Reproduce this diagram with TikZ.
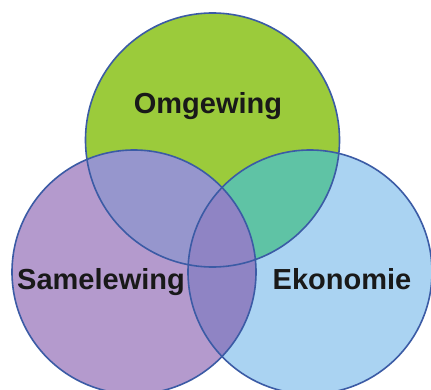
\documentclass[tikz,border=0pt]{standalone}
\usepackage{fontspec}
\setmainfont{Liberation Sans}
\definecolor{cgreen}{HTML}{9BCB3B}
\definecolor{cpurple}{HTML}{B49ACD}
\definecolor{cblue}{HTML}{AAD3F2}
\definecolor{cpg}{HTML}{9696CD}
\definecolor{cgb}{HTML}{5FC3A5}
\definecolor{cpb}{HTML}{8F84C4}
\definecolor{cline}{HTML}{3B5BA5}
\tikzset{
  outline/.style={draw=cline, line width=1.6pt},
  lbl/.style={font=\fontsize{29}{32}\selectfont\bfseries, text=black!90, anchor=base, inner sep=0pt}
}
\begin{document}
\begin{tikzpicture}[x=1pt,y=1pt]
\useasboundingbox (0,0) rectangle (431,389);
\fill[white] (0,0) rectangle (431,389);
\begin{scope}
\clip (0,0) rectangle (431,389);
\coordinate (G) at (212.5,249);
\coordinate (P) at (134,117);
\coordinate (B) at (310,117);
\fill[cgreen] (G) circle (127);
\fill[cpurple] (P) circle (122);
\fill[cblue] (B) circle (122);
\begin{scope}
  \clip (G) circle (127);
  \fill[cpg] (P) circle (122);
  \fill[cgb] (B) circle (122);
\end{scope}
\begin{scope}
  \clip (P) circle (122);
  \fill[cpb] (B) circle (122);
\end{scope}
\draw[outline] (G) circle (127);
\draw[outline] (P) circle (122);
\draw[outline] (B) circle (122);
\end{scope}
\node[lbl] (om) at (208,276) {Omgewing};
\node[lbl] (sa) at (101,100) {Samelewing};
\node[lbl] (ek) at (342,100) {Ekonomie};
\end{tikzpicture}
\end{document}
